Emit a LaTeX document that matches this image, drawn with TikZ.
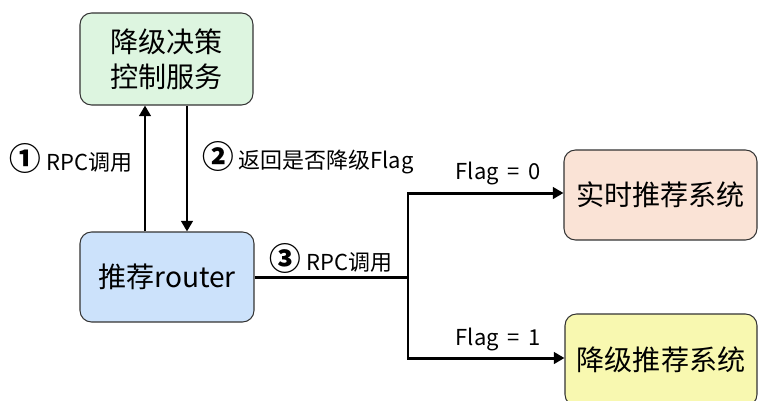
\documentclass[tikz,border=0pt]{standalone}
\usepackage{fontspec}
\setmainfont{Noto Sans CJK SC}
\usetikzlibrary{arrows.meta}
\definecolor{ctrlgreen}{HTML}{DDF5E0}
\definecolor{routerblue}{HTML}{CCE2FB}
\definecolor{realpeach}{HTML}{FAE3D6}
\definecolor{lowyellow}{HTML}{F8F8B0}
\newcommand{\stepnum}[1]{{\fontsize{18}{18}\bfseries #1}}
\tikzset{
  box/.style={draw=black!80, line width=0.6pt, rounded corners=6.5pt, align=center, inner sep=0pt,
    font=\fontsize{16}{20}\selectfont},
  link/.style={line width=1.7pt},
  tip/.style={link, -{Triangle[length=6pt,width=6.5pt]}},
  lbl/.style={font=\fontsize{12.5}{15}\selectfont, inner sep=0pt}
}

\begin{document}
\begin{tikzpicture}[x=0.02cm, y=-0.02cm]
		%%%%% START %%%%%
		\useasboundingbox (0, 0) rectangle (758, 400);
		
		\node[box, fill=ctrlgreen, minimum width=3.46cm, minimum height=1.84cm] (ctrl) at (166.5, 59) {降级决策\\控制服务};
		\node[box, fill=routerblue, minimum width=3.48cm, minimum height=1.8cm] (router) at (167, 277) {推荐router};
		\node[box, fill=realpeach, minimum width=3.86cm, minimum height=1.8cm] (real) at (660.5, 195) {实时推荐系统};
		\node[box, fill=lowyellow, minimum width=3.84cm, minimum height=1.84cm] (low) at (661, 360) {降级推荐系统};
		
		% router <-> ctrl
		\draw[tip] ([xshift=-0.44cm]router.north) -- ([xshift=-0.44cm]router.north |- ctrl.south);
		\draw[tip] ([xshift=0.4cm]router.north |- ctrl.south) -- ([xshift=0.4cm]router.north);
		
		\node[lbl] (call) at (71, 158) {\stepnum{①}\ RPC调用};
		\node[lbl] (ret) at (308, 158) {\stepnum{②}\ 返回是否降级Flag};
		
		% branch
		\coordinate (split) at (408, 277);
		\draw[link] (router.east) -- (split);
		\draw[tip] (split) |- ([yshift=0.04cm]real.west);
		\draw[tip] (split) |- ([yshift=0.04cm]low.west);
		
		\node[lbl] (call2) at (331, 258) {\stepnum{③}\ RPC调用};
		\node[lbl] (flag0) at (498, 173) {Flag \,=\, 0};
		\node[lbl] (flag1) at (498, 339) {Flag \,=\, 1};
		
		%%%%% END %%%%%
	\end{tikzpicture}
\end{document}
